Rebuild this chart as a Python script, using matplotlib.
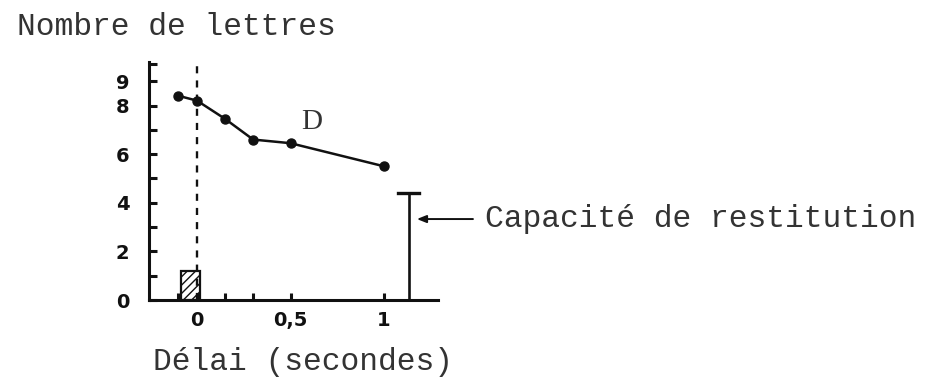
import matplotlib
matplotlib.use("Agg")
import matplotlib.pyplot as plt
from matplotlib.patches import Rectangle

# data (delay in seconds, letters reported)
delais = [-0.1, 0.0, 0.15, 0.3, 0.5, 1.0]
lettres = [8.4, 8.2, 7.45, 6.6, 6.45, 5.5]
capacite = 4.4                      # capacité de restitution
capacite_x = 1.135
barre_x, barre_largeur, barre_hauteur = -0.085, 0.1, 1.2

y_ticks = [0, 2, 4, 6, 8, 9]
y_minor = [1, 3, 5, 7, 9.7]
x_ticks = [0, 0.5, 1]
x_tick_labels = ["0", "0,5", "1"]
x_minor = [-0.1, 0.15, 0.3]

INK = "#111111"
TYPE = "#333333"
MONO = "Liberation Mono"

fig = plt.figure(figsize=(9.46, 3.81), dpi=100)
ax = fig.add_axes([149 / 946, 81 / 381, 289 / 946, 238 / 381])
ax.set_xlim(-0.257, 1.289)
ax.set_ylim(0, 9.79)

for side in ("top", "right"):
    ax.spines[side].set_visible(False)
for side in ("left", "bottom"):
    ax.spines[side].set_linewidth(2.2)
    ax.spines[side].set_color(INK)

# ticks
ax.set_yticks(y_ticks)
ax.set_yticks(y_minor, minor=True)
ax.set_xticks(x_ticks, x_tick_labels)
ax.set_xticks(x_minor, minor=True)
ax.tick_params(axis="both", which="both", direction="in", color=INK, width=2.2)
ax.tick_params(axis="y", which="both", length=6, pad=14)
ax.tick_params(axis="x", which="both", length=5, pad=8)
for lab in ax.get_xticklabels() + ax.get_yticklabels():
    lab.set_fontweight("bold")
    lab.set_fontsize(14)
    lab.set_color(INK)

# dashed line at stimulus offset
ax.plot([0, 0], [0, 9.79], color=INK, lw=1.7, ls=(0, (3, 3)))

# hatched exposure bar
ax.add_patch(Rectangle((barre_x, 0), barre_largeur, barre_hauteur,
                       facecolor="white", edgecolor=INK, lw=1.6, hatch="////"))

# partial-report curve
ax.plot(delais, lettres, color=INK, lw=1.8, marker="o", ms=6.5)
ax.text(0.615, 7.33, "D", fontsize=21, family="Liberation Serif", color=TYPE,
        ha="center", va="center")

# capacité de restitution bar
ax.plot([capacite_x, capacite_x], [0, capacite], color=INK, lw=1.9, clip_on=False)
ax.plot([capacite_x - 0.06, capacite_x + 0.055], [capacite, capacite],
        color=INK, lw=2.4, clip_on=False)
ax.annotate("", xy=(1.176, 3.33), xytext=(1.476, 3.33), annotation_clip=False,
            arrowprops=dict(arrowstyle="-|>,head_length=0.55,head_width=0.22",
                            color=INK, lw=1.4, shrinkA=0, shrinkB=0))
ax.text(1.54, 3.35, "Capacité de restitution", fontsize=22.5, family=MONO,
        color=TYPE, ha="left", va="center", clip_on=False)

# axis titles, typewritten
fig.text(17 / 946, 1 - 35 / 381, "Nombre de lettres", fontsize=22.5,
         family=MONO, color=TYPE, ha="left", va="baseline")
fig.text(153 / 946, 1 - 370 / 381, "Délai (secondes)", fontsize=22.5,
         family=MONO, color=TYPE, ha="left", va="baseline")

fig.savefig("out.png", dpi=100, facecolor="white")
